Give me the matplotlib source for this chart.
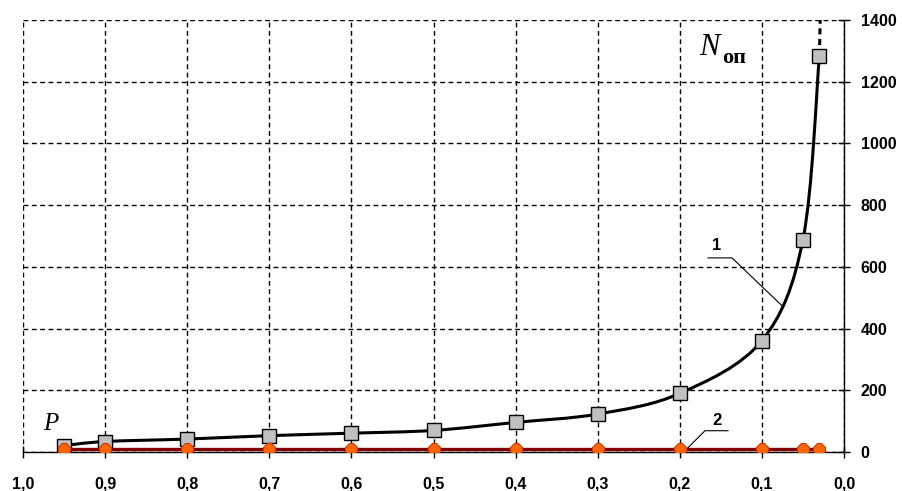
import matplotlib
matplotlib.use("Agg")
import matplotlib.pyplot as plt
from matplotlib.path import Path
from matplotlib.patches import PathPatch
from matplotlib.ticker import FuncFormatter

# вероятность P и число опытов N_оп
p_vals = [0.95, 0.9, 0.8, 0.7, 0.6, 0.5, 0.4, 0.3, 0.2, 0.1, 0.05, 0.03]
n_curve1 = [21, 34, 42, 53, 61, 70, 96, 123, 190, 361, 688, 1284]
n_curve2 = [10, 10, 10, 10, 10, 10, 10, 10, 10, 10, 10, 10]

# продолжение кривой 1 пунктиром
ext_p = [0.03, 0.029]
ext_n = [1284, 1400]

x_ticks = [1.0, 0.9, 0.8, 0.7, 0.6, 0.5, 0.4, 0.3, 0.2, 0.1, 0.0]
y_ticks = [0, 200, 400, 600, 800, 1000, 1200, 1400]


def smooth_path(xs, ys):
    # сглаженная линия как в Excel: кривые Безье через точки
    verts = [(xs[0], ys[0])]
    codes = [Path.MOVETO]
    n = len(xs)
    for i in range(n - 1):
        x0, y0 = (xs[i - 1], ys[i - 1]) if i > 0 else (xs[i], ys[i])
        x1, y1 = xs[i], ys[i]
        x2, y2 = xs[i + 1], ys[i + 1]
        x3, y3 = (xs[i + 2], ys[i + 2]) if i + 2 < n else (x2, y2)
        c1 = (x1 + (x2 - x0) / 6, y1 + (y2 - y0) / 6)
        c2 = (x2 - (x3 - x1) / 6, y2 - (y3 - y1) / 6)
        verts += [c1, c2, (x2, y2)]
        codes += [Path.CURVE4] * 3
    return Path(verts, codes)


fig = plt.figure(figsize=(9.02, 4.91), dpi=100)
ax = fig.add_axes([0.0255, 0.0794, 0.9102, 0.8799])

ax.set_xlim(1.0, 0.0)
ax.set_ylim(0, 1400)

ax.grid(True, color="black", linestyle=(0, (3.5, 2.5)), linewidth=1.0)
ax.set_axisbelow(True)
for s in ["top", "left"]:
    ax.spines[s].set_visible(False)
ax.spines["bottom"].set_linewidth(1.0)
ax.spines["right"].set_linewidth(1.0)

ax.yaxis.tick_right()
ax.set_xticks(x_ticks)
ax.set_yticks(y_ticks)
ax.xaxis.set_major_formatter(FuncFormatter(lambda v, pos: f"{v:.1f}".replace(".", ",")))
ax.tick_params(axis="x", direction="inout", length=9, width=1, pad=13)
ax.tick_params(axis="y", direction="inout", length=8, width=1, pad=8)
for lab in ax.get_xticklabels() + ax.get_yticklabels():
    lab.set_fontfamily("Liberation Sans")
    lab.set_fontweight("bold")
    lab.set_fontsize(11.5)

# кривая 1
ax.add_patch(PathPatch(smooth_path(p_vals, n_curve1), facecolor="none",
                       edgecolor="black", linewidth=2.2, zorder=3))
ax.plot(ext_p, ext_n, color="black", linewidth=2.2, linestyle=(0, (2, 1.5)), zorder=3,
        clip_on=False)
ax.plot(p_vals, n_curve1, linestyle="none", marker="s", markersize=10,
        markerfacecolor="#c0c0c0", markeredgecolor="black", markeredgewidth=1.0, zorder=4)

# кривая 2
ax.plot(p_vals, n_curve2, color="#800000", linewidth=2.4, zorder=5)
ax.plot(p_vals, n_curve2, linestyle="none", marker="8", markersize=9,
        markerfacecolor="#ff6600", markeredgecolor="#d03800", markeredgewidth=0.8, zorder=6)

# подписи кривых с выносками
ax.text(0.1547, 670, "1", fontfamily="Liberation Sans", fontweight="bold", fontsize=12,
        ha="center", va="center")
ax.plot([0.1657, 0.1364, 0.0755], [629, 629, 474], color="black", linewidth=0.8, zorder=5)
ax.text(0.1547, 101, "2", fontfamily="Liberation Sans", fontweight="bold", fontsize=12,
        ha="center", va="center")
ax.plot([0.1413, 0.1693, 0.19], [69, 69, 14], color="black", linewidth=0.8, zorder=7)

# обозначения осей
ax.text(0.1766, 1287, "N", fontfamily="Liberation Serif", fontstyle="italic",
        fontsize=22, ha="left", va="baseline")
ax.text(0.1486, 1261, "оп", fontfamily="Liberation Serif", fontweight="bold",
        fontsize=16, ha="left", va="baseline")
ax.text(0.9756, 72, "P", fontfamily="Liberation Serif", fontstyle="italic",
        fontsize=18, ha="left", va="baseline")

fig.savefig("out.png", dpi=100)
